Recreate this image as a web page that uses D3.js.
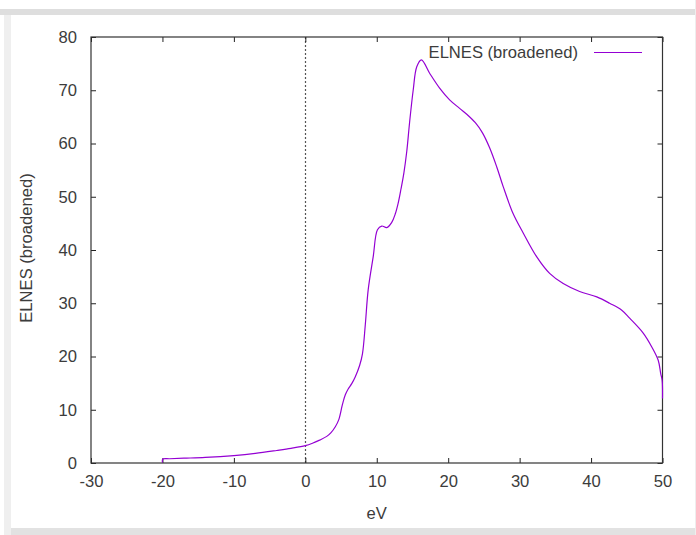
<!DOCTYPE html>
<html>
<head>
<meta charset="utf-8">
<script src="https://cdn.jsdelivr.net/npm/d3@7"></script>
<style>
  body { margin: 0; background: #fff; }
  svg text { font-family: "Liberation Sans", Arial, sans-serif; }
</style>
</head>
<body>
<div id="chart"></div>
<script>
'use strict';

// energy axis (eV) and broadened ELNES intensity
var energies = [-20, -19.95, -19, -17, -14, -10, -7, -4, -2, 0, 1, 2, 3, 3.6, 4.2, 4.7, 5.2, 5.6, 6.0, 6.5, 7.0,
  7.6, 8.0, 8.4, 8.8, 9.5, 10.1, 10.7, 11.4, 12.1, 12.6, 13.0, 13.4, 13.8, 14.2, 14.6, 15.1, 15.6, 16.25,
  17.4, 18.8, 20.2, 21.6, 22.6, 23.8, 24.8, 25.8, 26.8, 27.7, 29.1, 30.5, 32.4, 34.2, 36.1, 38.4,
  40.8, 42.6, 44.3, 45.4, 47.3, 48.5, 49.4, 49.75, 49.95, 50];
var intensity = [0.1, 0.75, 0.8, 0.9, 1.05, 1.4, 1.8, 2.35, 2.75, 3.25, 3.7, 4.3, 5.0, 5.7, 6.8, 8.2, 11.0, 12.8, 13.9, 14.9, 16.2,
  18.3, 20.5, 26.0, 32.5, 38.7, 43.8, 44.5, 44.2, 45.2, 46.8, 48.8, 51.5, 54.5, 58.5, 64.0, 70.0, 74.4, 75.7,
  73.2, 70.4, 68.2, 66.6, 65.5, 63.9, 62.0, 59.2, 55.6, 51.9, 46.8, 43.2, 38.7, 35.6, 33.7, 32.2,
  31.2, 30.0, 28.7, 27.2, 24.4, 21.8, 19.3, 16.8, 15.5, 12.1];

var xTicks = [-30, -20, -10, 0, 10, 20, 30, 40, 50];
var yTicks = [0, 10, 20, 30, 40, 50, 60, 70, 80];

var seriesName = 'ELNES (broadened)';
var xTitle = 'eV';
var yTitle = 'ELNES (broadened)';

var W = 696, H = 535;
var plotL = 91, plotR = 662.5, plotT = 37, plotB = 463;
var lineColor = '#9400d3', textColor = '#3c3c3c', tickLen = 5, fontSize = '16.6px';

var svg = d3.select('#chart').append('svg')
  .attr('width', W)
  .attr('height', H);

/* outer frame bands */
svg.append('rect').attr('x', 0).attr('y', 9).attr('width', 695).attr('height', 6).style('fill', '#dedede');
svg.append('rect').attr('x', 4).attr('y', 15).attr('width', 7).attr('height', 520).style('fill', '#efefef');
svg.append('rect').attr('x', 11).attr('y', 528).attr('width', 684).attr('height', 7).style('fill', '#e2e2e2');
svg.append('rect').attr('x', 695).attr('y', 0).attr('width', 1).attr('height', H).style('fill', '#eeeeee');

var x = d3.scaleLinear().domain([-30, 50]).range([plotL, plotR]);
var y = d3.scaleLinear().domain([0, 80]).range([plotB, plotT]);

// zero energy marker
svg.append('line')
  .attr('x1', Math.round(x(0)) + 0.5).attr('x2', Math.round(x(0)) + 0.5)
  .attr('y1', plotT).attr('y2', plotB)
  .style('stroke', '#555')
  .style('stroke-width', 1.2)
  .style('stroke-dasharray', '2,2');

/* axes - gnuplot style, inward ticks mirrored on all sides */
var plainNum = function(d) { return String(d); };   // hyphen minus like the original
var axisBottom = d3.axisBottom(x).tickValues(xTicks).tickSizeInner(-tickLen).tickSizeOuter(0).tickPadding(12).tickFormat(plainNum);
var axisTop = d3.axisTop(x).tickValues(xTicks).tickSizeInner(-tickLen).tickSizeOuter(0).tickFormat('');
var axisLeft = d3.axisLeft(y).tickValues(yTicks).tickSizeInner(-tickLen).tickSizeOuter(0).tickPadding(14).tickFormat(plainNum);
var axisRight = d3.axisRight(y).tickValues(yTicks).tickSizeInner(-tickLen).tickSizeOuter(0).tickFormat('');

var styleAxis = function styleAxis(g) {
  g.select('.domain').remove();
  g.selectAll('.tick line').style('stroke', '#222');
  g.selectAll('.tick text')
    .style('font-size', fontSize)
    .style('fill', textColor)
    .style('font-family', '"Liberation Sans", Arial, sans-serif');
};

svg.append('g').attr('transform', 'translate(0,' + plotB + ')').call(axisBottom).call(styleAxis);
svg.append('g').attr('transform', 'translate(0,' + plotT + ')').call(axisTop).call(styleAxis);
svg.append('g').attr('transform', 'translate(' + plotL + ',0)').call(axisLeft).call(styleAxis);
svg.append('g').attr('transform', 'translate(' + plotR + ',0)').call(axisRight).call(styleAxis);

svg.append('rect')
  .attr('x', plotL).attr('y', plotT)
  .attr('width', plotR - plotL).attr('height', plotB - plotT)
  .style('fill', 'none')
  .style('stroke', '#333')
  .style('stroke-width', 1.2);

/* the curve */
var pts = energies.map(function(e, i) { return [e, intensity[i]]; });
var line = d3.line()
  .x(function(d) { return x(d[0]); })
  .y(function(d) { return y(d[1]); })
  .curve(d3.curveCatmullRom.alpha(0.5));

svg.append('path')
  .datum(pts)
  .attr('d', line)
  .style('fill', 'none')
  .style('stroke', lineColor)
  .style('stroke-width', 1.2);

/* legend */
svg.append('text')
  .attr('x', 578).attr('y', 52)
  .attr('text-anchor', 'end')
  .attr('dominant-baseline', 'central')
  .style('font-size', fontSize)
  .style('fill', textColor)
  .text(seriesName);

svg.append('line')
  .attr('x1', 594).attr('x2', 642)
  .attr('y1', 52.5).attr('y2', 52.5)
  .style('stroke', lineColor)
  .style('stroke-width', 1.2);

/* axis titles */
svg.append('text')
  .attr('x', (plotL + plotR) / 2).attr('y', 513)
  .attr('text-anchor', 'middle')
  .attr('dominant-baseline', 'central')
  .style('font-size', fontSize)
  .style('fill', textColor)
  .text(xTitle);

svg.append('text')
  .attr('transform', 'translate(26,' + ((plotT + plotB) / 2 - 2) + ') rotate(-90)')
  .attr('text-anchor', 'middle')
  .attr('dominant-baseline', 'central')
  .style('font-size', fontSize)
  .style('fill', textColor)
  .text(yTitle);
</script>
</body>
</html>
